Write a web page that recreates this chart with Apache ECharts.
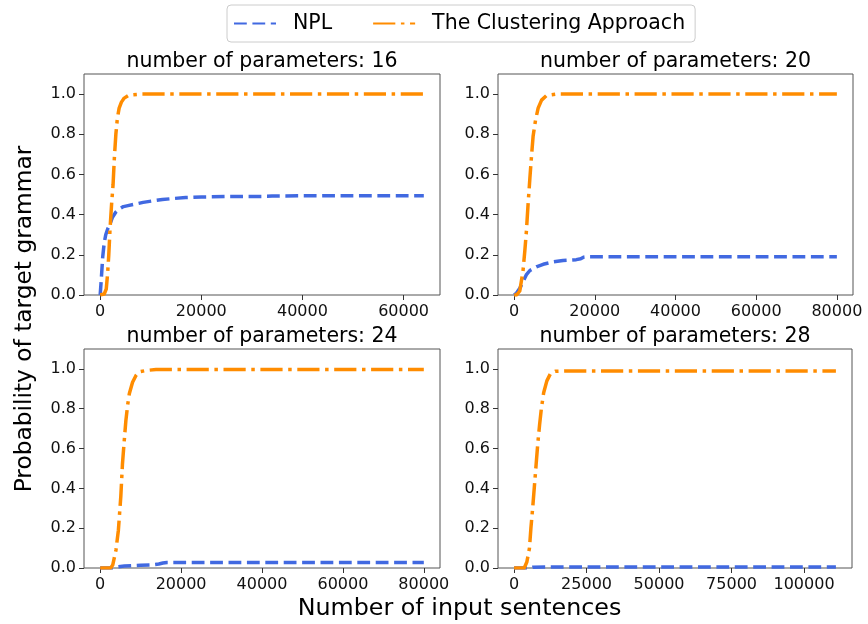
<!DOCTYPE html>
<html>
<head>
<meta charset="utf-8">
<script src="https://cdn.jsdelivr.net/npm/echarts@6/dist/echarts.min.js"></script>
<style>
html,body{margin:0;padding:0;background:#fff;}
#chart{width:868px;height:624px;}
</style>
</head>
<body>
<div id="chart"></div>
<script>
// ---- data ----
const seriesNames = ['NPL', 'The Clustering Approach'];
const panelTitles = ['number of parameters: 16', 'number of parameters: 20', 'number of parameters: 24', 'number of parameters: 28'];
const xLabel = 'Number of input sentences';
const yLabel = 'Probability of target grammar';

const npl16 = [[0,0],[200,0.07],[500,0.19],[800,0.26],[1100,0.30],[1500,0.33],[1900,0.35],[2400,0.385],[3100,0.413],[3800,0.428],[4600,0.44],[5500,0.445],[7000,0.453],[8500,0.461],[10300,0.468],[12300,0.475],[14300,0.48],[16900,0.485],[20000,0.488],[25000,0.49],[33000,0.491],[34000,0.493],[45000,0.494],[64000,0.494]];
const clus16 = [[0,0],[800,0.005],[1200,0.03],[1450,0.1],[1700,0.2],[1950,0.33],[2250,0.45],[2550,0.55],[2800,0.68],[3100,0.8],[3400,0.88],[3750,0.93],[4200,0.96],[4750,0.98],[5700,0.995],[8000,1.0],[64000,1.0]];

const npl20 = [[0,0],[600,0.01],[1400,0.033],[2200,0.066],[3000,0.1],[3900,0.122],[5500,0.14],[7200,0.153],[9700,0.165],[12100,0.172],[15400,0.176],[16500,0.18],[17200,0.188],[18000,0.19],[80000,0.19]];
const clus20 = [[0,0],[600,0],[1400,0.02],[2200,0.12],[2650,0.22],[3050,0.32],[3450,0.45],[3900,0.58],[4300,0.69],[4700,0.79],[5300,0.87],[5950,0.93],[6800,0.97],[8000,0.993],[10500,1.0],[80000,1.0]];

const npl24 = [[0,0],[3500,0],[4500,0.006],[6000,0.01],[8000,0.012],[10000,0.014],[13000,0.016],[14500,0.02],[15500,0.025],[16500,0.028],[80000,0.028]];
const clus24 = [[0,0],[2600,0],[3100,0.015],[3900,0.09],[4500,0.19],[5100,0.36],[5500,0.52],[5950,0.64],[6350,0.74],[6800,0.82],[7200,0.875],[8000,0.933],[8850,0.967],[9650,0.985],[11300,0.992],[13800,0.997],[80000,0.997]];

const npl28 = [[0,0],[5500,0],[6500,0.004],[15000,0.005],[111000,0.005]];
const clus28 = [[0,0],[3500,0],[4400,0.03],[5300,0.1],[5800,0.2],[6400,0.3],[7000,0.41],[7600,0.52],[8200,0.63],[8800,0.72],[9400,0.8],[10200,0.88],[11300,0.94],[12500,0.975],[14200,0.988],[20000,0.99],[111000,0.99]];

const yTicks = [0, 0.2, 0.4, 0.6, 0.8, 1.0];
const xTicks16 = [0, 20000, 40000, 60000];
const xTicks20 = [0, 20000, 40000, 60000, 80000];
const xTicks24 = [0, 20000, 40000, 60000, 80000];
const xTicks28 = [0, 25000, 50000, 75000, 100000];
const xMaxData = [64000, 80000, 80000, 111000];

// ---- build ----
const FONT = 'DejaVu Sans';
const TICK_FONT = 16;
const panels = [
  {npl: npl16, clus: clus16, ticks: xTicks16, grid: {left: 84, top: 74, width: 356, height: 221}},
  {npl: npl20, clus: clus20, ticks: xTicks20, grid: {left: 498, top: 74, width: 355, height: 221}},
  {npl: npl24, clus: clus24, ticks: xTicks24, grid: {left: 84, top: 349, width: 356, height: 219}},
  {npl: npl28, clus: clus28, ticks: xTicks28, grid: {left: 498, top: 349, width: 354, height: 219}}
];
const BLUE = '#4169E1', ORANGE = '#FF8C00';
const grids = [], xAxes = [], yAxes = [], series = [], graphics = [];
panels.forEach((p, i) => {
  grids.push(Object.assign({show: true, borderColor: '#555', borderWidth: 1, backgroundColor: 'transparent', containLabel: false}, p.grid));
  const dmax = xMaxData[i];
  xAxes.push({
    type: 'value', gridIndex: i, min: -0.05 * dmax, max: 1.05 * dmax, position: 'bottom',
    axisLine: {show: false, onZero: false}, splitLine: {show: false},
    axisTick: {show: true, customValues: p.ticks, length: 5, lineStyle: {color: '#333', width: 1}},
    axisLabel: {customValues: p.ticks, fontFamily: FONT, fontSize: TICK_FONT, lineHeight: 18, color: '#111', margin: 8,
      hideOverlap: false, formatter: v => String(Math.round(v))}
  });
  yAxes.push({
    type: 'value', gridIndex: i, min: 0, max: 1.1, position: 'left',
    axisLine: {show: false, onZero: false}, splitLine: {show: false},
    axisTick: {show: true, customValues: yTicks, length: 5, lineStyle: {color: '#333', width: 1}},
    axisLabel: {customValues: yTicks, fontFamily: FONT, fontSize: TICK_FONT, lineHeight: 18, color: '#111', margin: 8,
      formatter: v => Number(v).toFixed(1)}
  });
  series.push({
    name: seriesNames[0], type: 'line', xAxisIndex: i, yAxisIndex: i, data: p.npl,
    symbol: 'none', showSymbol: false, smooth: false, animation: false, color: BLUE,
    lineStyle: {color: BLUE, width: 3.5, type: [12.8, 5.6], cap: 'butt', join: 'round'}
  });
  series.push({
    name: seriesNames[1], type: 'line', xAxisIndex: i, yAxisIndex: i, data: p.clus,
    symbol: 'none', showSymbol: false, smooth: false, animation: false, color: ORANGE,
    lineStyle: {color: ORANGE, width: 3.5, type: [22.2, 5.6, 3.5, 5.6], cap: 'butt', join: 'round'}
  });
  const g = p.grid;
  graphics.push({
    type: 'text', x: g.left + g.width / 2, y: g.top - 12,
    style: {text: panelTitles[i], font: '20.5px "DejaVu Sans"', fill: '#000', align: 'center', verticalAlign: 'middle'}
  });
});
graphics.push({
  type: 'text', x: 459.5, y: 609,
  style: {text: xLabel, font: '23.8px "DejaVu Sans"', fill: '#000', align: 'center', verticalAlign: 'middle'}
});
graphics.push({
  type: 'text', x: 25, y: 319, rotation: Math.PI / 2,
  style: {text: yLabel, font: '23.3px "DejaVu Sans"', fill: '#000', align: 'center', verticalAlign: 'middle'}
});

const chart = echarts.init(document.getElementById('chart'), null, {renderer: 'canvas'});
chart.setOption({
  backgroundColor: '#fff',
  animation: false,
  textStyle: {fontFamily: FONT, fontSize: TICK_FONT},
  legend: {
    data: seriesNames, left: 227, top: 5, orient: 'horizontal',
    itemWidth: 42, itemHeight: 14, itemGap: 40,
    padding: [8, 10, 8, 6],
    borderColor: '#cccccc', borderWidth: 1, borderRadius: 4,
    backgroundColor: 'rgba(255,255,255,0.8)',
    itemStyle: {opacity: 0},
    textStyle: {fontFamily: FONT, fontSize: 20.5, color: '#000', padding: [0, 0, 0, 12]},
    selectedMode: false
  },
  grid: grids, xAxis: xAxes, yAxis: yAxes, series: series, graphic: graphics
});
</script>
</body>
</html>
